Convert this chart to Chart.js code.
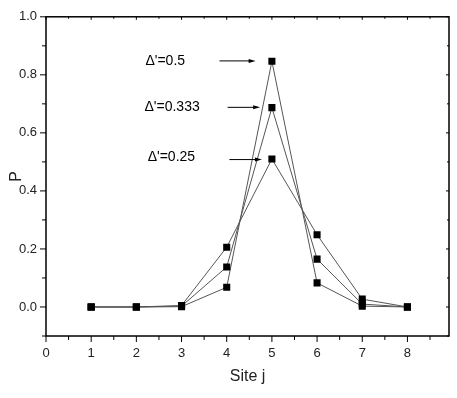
<!DOCTYPE html>
<html>
<head>
<meta charset="utf-8">
<script src="https://cdn.jsdelivr.net/npm/chart.js@4/dist/chart.umd.min.js"></script>
<style>
  html, body { margin: 0; padding: 0; background: #fff; }
  #wrap { width: 457px; height: 398px; }
</style>
</head>
<body>
<div id="wrap"><canvas id="myChart" width="457" height="398"></canvas></div>
<script>
const sites = [1, 2, 3, 4, 5, 6, 7, 8];
const p025 = [0, 0, 0.005, 0.206, 0.51, 0.249, 0.027, 0];
const p0333 = [0, 0, 0.003, 0.138, 0.687, 0.165, 0.01, 0];
const p05 = [0, 0, 0.001, 0.068, 0.847, 0.083, 0.003, 0];
const seriesLabels = ["Δ'=0.25", "Δ'=0.333", "Δ'=0.5"];
const xTickLabels = ["0", "1", "2", "3", "4", "5", "6", "7", "8"];
const yTickLabels = ["0.0", "0.2", "0.4", "0.6", "0.8", "1.0"];

// label text + arrow, in data units
const notes = [
  { text: seriesLabels[2], tx: 2.2, ty: 0.848, ax0: 3.84, ax1: 4.64, ay: 0.848 },
  { text: seriesLabels[1], tx: 2.18, ty: 0.69, ax0: 4.02, ax1: 4.74, ay: 0.688 },
  { text: seriesLabels[0], tx: 2.25, ty: 0.515, ax0: 4.06, ax1: 4.78, ay: 0.508 },
];

const toPoints = (vals) => sites.map((s, i) => ({ x: s, y: vals[i] }));

const mkSet = (label, vals) => ({
  label: label,
  data: toPoints(vals),
  showLine: true,
  borderColor: "#555",
  borderWidth: 1,
  backgroundColor: "#000",
  pointBackgroundColor: "#000",
  pointBorderColor: "#000",
  pointBorderWidth: 0,
  pointStyle: "rect",
  pointRadius: 5,
  pointHoverRadius: 5,
});

const frame = {
  id: "frame",
  afterDraw(chart) {
    const ctx = chart.ctx;
    const a = chart.chartArea;
    const xs = chart.scales.x;
    const ys = chart.scales.y;
    ctx.save();
    ctx.strokeStyle = "#000";
    ctx.lineWidth = 1.5;
    ctx.strokeRect(a.left, a.top, a.right - a.left, a.bottom - a.top);

    ctx.lineWidth = 1;
    // x ticks
    for (let v = 0; v <= 8.5; v += 0.5) {
      const px = xs.getPixelForValue(v);
      const major = Number.isInteger(v);
      ctx.beginPath();
      ctx.moveTo(px, a.bottom);
      ctx.lineTo(px, a.bottom + (major ? 6 : 4));
      ctx.moveTo(px, a.top);
      ctx.lineTo(px, a.top + (major ? 3 : 2));
      ctx.stroke();
    }
    // y ticks
    for (let k = -1; k <= 10; k++) {
      const v = k / 10;
      const py = ys.getPixelForValue(v);
      const major = k % 2 === 0;
      ctx.beginPath();
      ctx.moveTo(a.left, py);
      ctx.lineTo(a.left - (major ? 6 : 4), py);
      ctx.moveTo(a.right, py);
      ctx.lineTo(a.right - (major ? 3 : 2), py);
      ctx.stroke();
    }

    // annotations
    ctx.fillStyle = "#000";
    ctx.font = "14px 'Liberation Sans', Arial, sans-serif";
    ctx.textBaseline = "middle";
    ctx.textAlign = "left";
    notes.forEach((n) => {
      ctx.fillText(n.text, xs.getPixelForValue(n.tx), ys.getPixelForValue(n.ty));
      const x0 = xs.getPixelForValue(n.ax0);
      const x1 = xs.getPixelForValue(n.ax1);
      const y = ys.getPixelForValue(n.ay);
      ctx.beginPath();
      ctx.moveTo(x0, y);
      ctx.lineTo(x1 - 4, y);
      ctx.stroke();
      ctx.beginPath();
      ctx.moveTo(x1, y);
      ctx.lineTo(x1 - 7, y - 2);
      ctx.lineTo(x1 - 7, y + 2);
      ctx.closePath();
      ctx.fill();
    });
    ctx.restore();
  },
};

const config = {
  type: "scatter",
  data: {
    datasets: [mkSet(seriesLabels[0], p025), mkSet(seriesLabels[1], p0333), mkSet(seriesLabels[2], p05)],
  },
  options: {
    responsive: false,
    animation: false,
    layout: { padding: { top: 13, right: 8, left: 7, bottom: 12 } },
    plugins: { legend: { display: false }, tooltip: { enabled: false } },
    scales: {
      x: {
        type: "linear",
        min: 0,
        max: 8.92,
        afterBuildTicks: (s) => { s.ticks = xTickLabels.map((t) => ({ value: Number(t) })); },
        afterFit: (s) => { s.height = 50; },
        grid: { display: false, drawTicks: false },
        border: { display: false },
        ticks: {
          color: "#222",
          padding: 10,
          autoSkip: false,
          maxRotation: 0,
          font: { family: "'Liberation Sans', Arial, sans-serif", size: 13 },
          callback: (v) => String(v),
        },
        title: {
          display: true,
          text: "Site j",
          color: "#222",
          padding: { top: 8, bottom: 0 },
          font: { family: "'Liberation Sans', Arial, sans-serif", size: 16 },
        },
      },
      y: {
        type: "linear",
        min: -0.1,
        max: 1.0,
        afterBuildTicks: (s) => { s.ticks = yTickLabels.map((t) => ({ value: Number(t) })); },
        afterFit: (s) => { s.width = 39; },
        grid: { display: false, drawTicks: false },
        border: { display: false },
        ticks: {
          color: "#222",
          padding: 9,
          autoSkip: false,
          font: { family: "'Liberation Sans', Arial, sans-serif", size: 13 },
          callback: (v) => Number(v).toFixed(1),
        },
        title: {
          display: true,
          text: "P",
          color: "#222",
          padding: { top: 0, bottom: 0 },
          font: { family: "'Liberation Sans', Arial, sans-serif", size: 16 },
        },
      },
    },
  },
  plugins: [frame],
};

window.onload = () => {
  new Chart(document.getElementById("myChart"), config);
};
</script>
</body>
</html>
